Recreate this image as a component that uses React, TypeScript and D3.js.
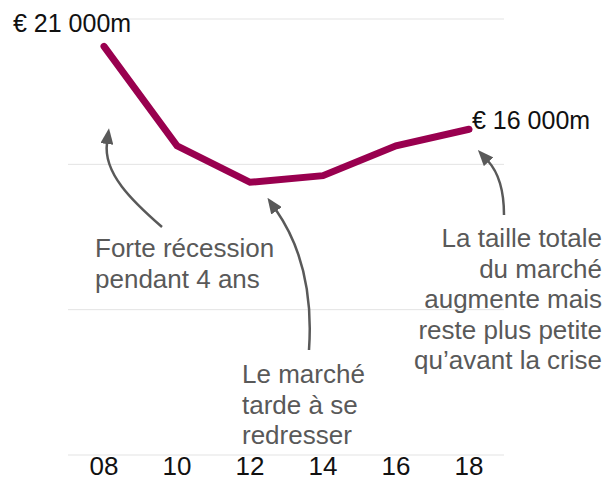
import React from "react";
import * as d3 from "d3";

// market size per year (millions of euros)
const years = [2008, 2010, 2012, 2014, 2016, 2018];
const tickLabels = ["08", "10", "12", "14", "16", "18"];
const marketSize = [21000, 15000, 12800, 13200, 15000, 16000];

const startLabel = "€ 21 000m";
const endLabel = "€ 16 000m";

const noteRecession = ["Forte récession", "pendant 4 ans"];
const noteSlow = ["Le marché", "tarde à se", "redresser"];
const noteGrowth = [
  "La taille totale",
  "du marché",
  "augmente mais",
  "reste plus petite",
  "qu’avant la crise",
];

const width = 607;
const height = 478;
const font = "'Liberation Sans', Arial, Helvetica, sans-serif";
const lineColor = "#99004f";
const noteColor = "#595959";

const App = () => {
  const x = d3.scaleLinear().domain([2008, 2018]).range([104, 469]);
  const y = d3.scaleLinear().domain([-3650, 22650]).range([455, 19]);

  // four evenly spaced gridlines across the plot area
  const grid = d3.range(4).map((i) => y.domain()[0] + (i * (y.domain()[1] - y.domain()[0])) / 3);

  const line = d3
    .line<number>()
    .x((_, i) => x(years[i]))
    .y((d) => y(d));

  const lastX = x(years[years.length - 1]);
  const lastY = y(marketSize[marketSize.length - 1]);

  const arrows = [
    "M162,227 C132,201 103,173 107,143",
    "M309,350 C313,292 301,246 276,210",
    "M504,215 C504,190 498,172 488,161",
  ];

  const lineH = 30.5;

  return (
    <svg
      width={width}
      height={height}
      style={{ position: "absolute", top: 0, left: 0, background: "#fff" }}
      fontFamily={font}
    >
      <defs>
        <marker
          id="head"
          viewBox="0 0 16 13"
          refX={1}
          refY={6.5}
          markerWidth={16}
          markerHeight={13}
          markerUnits="userSpaceOnUse"
          orient="auto"
        >
          <path d="M0,0 L16,6.5 L0,13 Z" fill={noteColor} />
        </marker>
      </defs>

      {grid.map((g, i) => (
        <line key={i} x1={68} x2={504} y1={y(g)} y2={y(g)} stroke="#e3e3e3" strokeWidth={1} />
      ))}

      <path
        d={line(marketSize) ?? ""}
        fill="none"
        stroke={lineColor}
        strokeWidth={7}
        strokeLinecap="round"
        strokeLinejoin="miter"
      />

      <text x={13} y={32} fontSize={25} fill="#111">
        {startLabel}
      </text>
      <text x={lastX + 3} y={lastY} fontSize={25} fill="#111">
        {endLabel}
      </text>

      {arrows.map((d, i) => (
        <path key={i} d={d} fill="none" stroke={noteColor} strokeWidth={2.5} markerEnd="url(#head)" />
      ))}

      <g fontSize={26} fill={noteColor}>
        {noteRecession.map((t, i) => (
          <text key={i} x={95} y={257 + i * lineH}>
            {t}
          </text>
        ))}
        {noteSlow.map((t, i) => (
          <text key={i} x={242} y={383 + i * lineH}>
            {t}
          </text>
        ))}
        {noteGrowth.map((t, i) => (
          <text key={i} x={602} y={247 + i * lineH} textAnchor="end">
            {t}
          </text>
        ))}
      </g>

      {years.map((yr, i) => (
        <text key={yr} x={x(yr)} y={475} fontSize={26} textAnchor="middle" fill="#111">
          {tickLabels[i]}
        </text>
      ))}
    </svg>
  );
};

export default App;
